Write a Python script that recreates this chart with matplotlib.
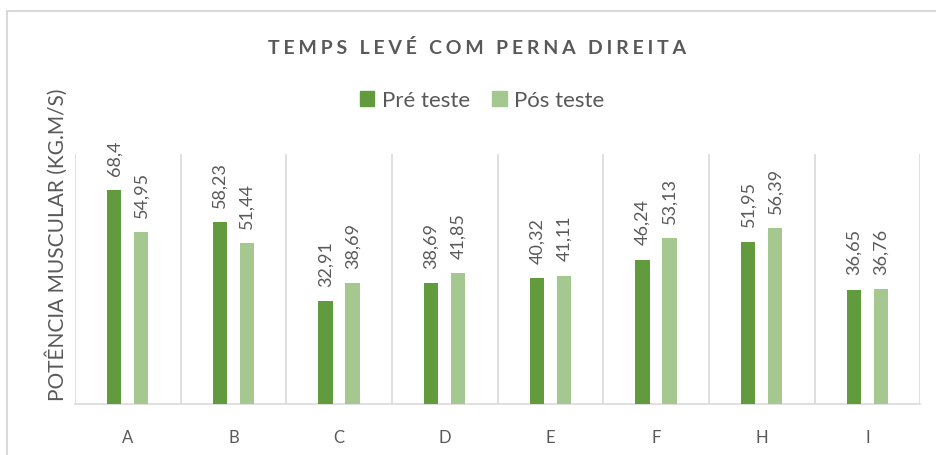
import matplotlib.pyplot as plt
import matplotlib.patches as mpatches
import numpy as np

# ─── Data ──────────────────────────────────────────────────────────────────────

categories = ["A", "B", "C", "D", "E", "F", "H", "I"]
pre_teste = [68.4, 58.23, 32.91, 38.69, 40.32, 46.24, 51.95, 36.65]
pos_teste = [54.95, 51.44, 38.69, 41.85, 41.11, 53.13, 56.39, 36.76]

DARK = "#629B3E"
LIGHT = "#A4C88F"
GRID = "#D9D9D9"
TEXT = "#595959"

plt.rcParams["font.family"] = ["Lato", "DejaVu Sans"]

fig = plt.figure(figsize=(9.36, 4.56), dpi=100)
ax = fig.add_axes([0.0801, 0.1118, 0.903, 0.548])

x = np.arange(len(categories))
w = 0.135
off = 0.128
b1 = ax.bar(x - off, pre_teste, width=w, color=DARK, zorder=3)
b2 = ax.bar(x + off, pos_teste, width=w, color=LIGHT, zorder=3)

def fmt(v):
    s = f"{v:.2f}".rstrip("0").rstrip(".")
    return s.replace(".", ",")

# value labels, rotated like in the original sheet
for bars, vals in [(b1, pre_teste), (b2, pos_teste)]:
    for bar, v in zip(bars, vals):
        ax.annotate(fmt(v), (bar.get_x() + bar.get_width() / 2, v),
                    xytext=(0, 11), textcoords="offset points",
                    rotation=90, ha="center", va="bottom",
                    fontsize=13, color=TEXT, annotation_clip=False)

ax.set_xlim(-0.5, len(categories) - 0.5)
ax.set_ylim(0, 80)
for b in np.arange(-0.5, len(categories), 1):
    ax.axvline(b, color=GRID, linewidth=1.2, zorder=1)
for s in ["top", "right", "left"]:
    ax.spines[s].set_visible(False)
ax.spines["bottom"].set_color(GRID)
ax.spines["bottom"].set_linewidth(1.2)
ax.set_yticks([])
ax.set_xticks(x)
ax.set_xticklabels(categories, fontsize=12, color=TEXT)
ax.tick_params(axis="x", length=0, pad=18)

ax.set_ylabel("POTÊNCIA MUSCULAR (KG.M/S)", fontsize=15, color=TEXT)
ax.yaxis.set_label_coords(-0.008, 0.64)

title = "\u2009\u200a".join("TEMPS LEVÉ COM PERNA DIREITA")
fig.text(0.510, 0.895, title, ha="center", va="center", fontsize=14,
         fontweight="bold", color=TEXT)

handles = [mpatches.Patch(color=DARK, label="Pré teste"),
           mpatches.Patch(color=LIGHT, label="Pós teste")]
fig.legend(handles=handles, loc="center", bbox_to_anchor=(0.515, 0.778), ncol=2,
           frameon=False, fontsize=16, handlelength=0.65, handleheight=0.65,
           handletextpad=0.35, columnspacing=1.0, labelcolor=TEXT)

# chart area border
fig.patches.append(mpatches.Rectangle((7 / 936, -0.1), 2, 1.1 - 12 / 456,
                                      transform=fig.transFigure, fill=False,
                                      edgecolor=GRID, linewidth=1.5))

plt.savefig("out.png", dpi=100)
plt.close()
